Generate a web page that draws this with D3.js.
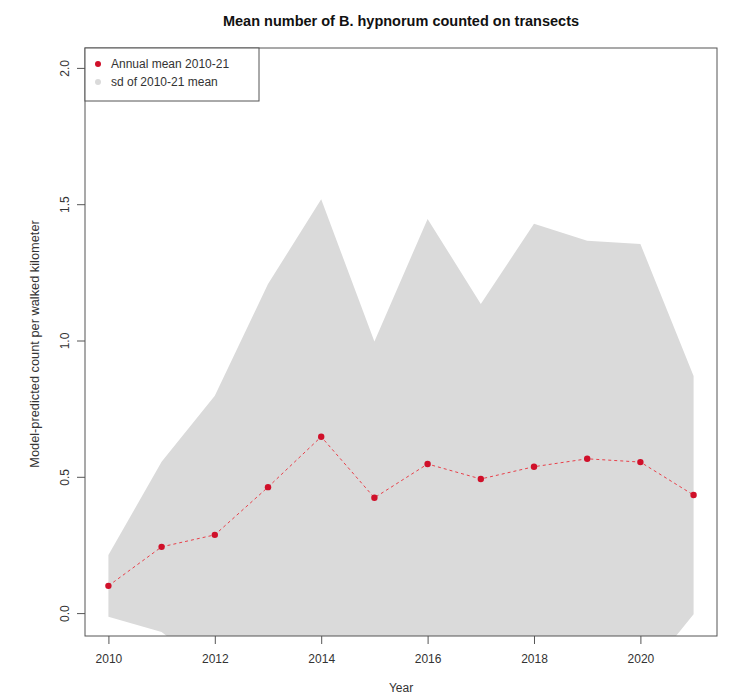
<!DOCTYPE html>
<html>
<head>
<meta charset="utf-8">
<script src="https://cdn.jsdelivr.net/npm/d3@7"></script>
<style>
  html, body { margin: 0; padding: 0; background: #fff; }
  svg { display: block; font-family: "Liberation Sans", Arial, sans-serif; }
</style>
</head>
<body>
<svg id="chart" width="734" height="698"></svg>
<script>
// Survey years
const years = [2010, 2011, 2012, 2013, 2014, 2015, 2016, 2017, 2018, 2019, 2020, 2021];
// Annual mean count per walked kilometre
const meanCount = [0.100, 0.243, 0.287, 0.462, 0.647, 0.423, 0.547, 0.492, 0.537, 0.566, 0.554, 0.433];
// Standard deviation of the annual mean
const sdCount = [0.113, 0.312, 0.510, 0.745, 0.871, 0.573, 0.899, 0.642, 0.891, 0.800, 0.800, 0.437];
// Axis ticks
const xTicks = [2010, 2012, 2014, 2016, 2018, 2020];
const yTicks = [0.0, 0.5, 1.0, 1.5, 2.0];
const legendLabels = ["Annual mean 2010-21", "sd of 2010-21 mean"];

const rows = years.map((yr, i) => ({
  year: yr,
  mean: meanCount[i],
  lo: meanCount[i] - sdCount[i],
  hi: meanCount[i] + sdCount[i]
}));

const svg = d3.select("#chart");
const box = { left: 85, right: 717, top: 48, bottom: 636 };

const x = d3.scaleLinear().domain([2009.56, 2021.44]).range([box.left, box.right]);
const y = d3.scaleLinear().domain([-0.084, 2.073]).range([box.bottom, box.top]);

svg.append("defs").append("clipPath").attr("id", "plotClip")
  .append("rect")
  .attr("x", box.left).attr("y", box.top)
  .attr("width", box.right - box.left).attr("height", box.bottom - box.top);

const plot = svg.append("g").attr("clip-path", "url(#plotClip)");

// sd band around the mean
plot.append("path")
  .datum(rows)
  .attr("fill", "#dadada")
  .attr("d", d3.area().x(d => x(d.year)).y0(d => y(d.lo)).y1(d => y(d.hi)));

// dashed line joining annual means
plot.append("path")
  .datum(rows)
  .attr("fill", "none")
  .attr("stroke", "#e8404a")
  .attr("stroke-width", 1)
  .attr("stroke-dasharray", "3,3")
  .attr("d", d3.line().x(d => x(d.year)).y(d => y(d.mean)));

plot.selectAll("circle.pt")
  .data(rows)
  .join("circle")
  .attr("class", "pt")
  .attr("cx", d => x(d.year))
  .attr("cy", d => y(d.mean))
  .attr("r", 3.2)
  .attr("fill", "#d0102a");

// x axis
const xAxis = svg.append("g")
  .attr("transform", `translate(0,${box.bottom})`)
  .call(d3.axisBottom(x).tickValues(xTicks).tickFormat(d3.format("d")).tickSize(8).tickPadding(4));
xAxis.select(".domain").remove();
xAxis.selectAll("line").attr("stroke", "#555");
xAxis.selectAll("text")
  .attr("y", 0).attr("dy", 0)
  .attr("transform", "translate(0,27)")
  .attr("font-size", 12).attr("fill", "#333")
  .attr("font-family", "Liberation Sans, Arial, sans-serif");

// y axis
const yAxis = svg.append("g")
  .attr("transform", `translate(${box.left},0)`)
  .call(d3.axisLeft(y).tickValues(yTicks).tickFormat(d3.format(".1f")).tickSize(8));
yAxis.select(".domain").remove();
yAxis.selectAll("line").attr("stroke", "#555");
yAxis.selectAll("text")
  .attr("x", 0).attr("y", 0).attr("dy", 0)
  .attr("text-anchor", "middle")
  .attr("transform", "translate(-16,0) rotate(-90)")
  .attr("font-size", 12).attr("fill", "#333")
  .attr("font-family", "Liberation Sans, Arial, sans-serif");

// plot frame
svg.append("rect")
  .attr("x", box.left).attr("y", box.top)
  .attr("width", box.right - box.left).attr("height", box.bottom - box.top)
  .attr("fill", "none").attr("stroke", "#555").attr("stroke-width", 1);

// titles
svg.append("text")
  .attr("x", (box.left + box.right) / 2).attr("y", 26)
  .attr("text-anchor", "middle")
  .attr("font-size", 14.5).attr("font-weight", "bold").attr("fill", "#111")
  .text("Mean number of B. hypnorum counted on transects");

svg.append("text")
  .attr("x", (box.left + box.right) / 2).attr("y", 692)
  .attr("text-anchor", "middle")
  .attr("font-size", 12).attr("fill", "#333")
  .text("Year");

svg.append("text")
  .attr("transform", "translate(39,344) rotate(-90)")
  .attr("text-anchor", "middle")
  .attr("font-size", 12.8).attr("fill", "#333")
  .text("Model-predicted count per walked kilometer");

// legend
const lg = svg.append("g");
lg.append("rect")
  .attr("x", box.left).attr("y", box.top)
  .attr("width", 174).attr("height", 53)
  .attr("fill", "#fff").attr("stroke", "#555").attr("stroke-width", 1);
const legendColors = ["#d0102a", "#dadada"];
legendLabels.forEach((lab, i) => {
  lg.append("circle")
    .attr("cx", 98).attr("cy", 64 + i * 18)
    .attr("r", 3).attr("fill", legendColors[i]);
  lg.append("text")
    .attr("x", 111).attr("y", 68 + i * 18)
    .attr("font-size", 12).attr("fill", "#333")
    .text(lab);
});
</script>
</body>
</html>
